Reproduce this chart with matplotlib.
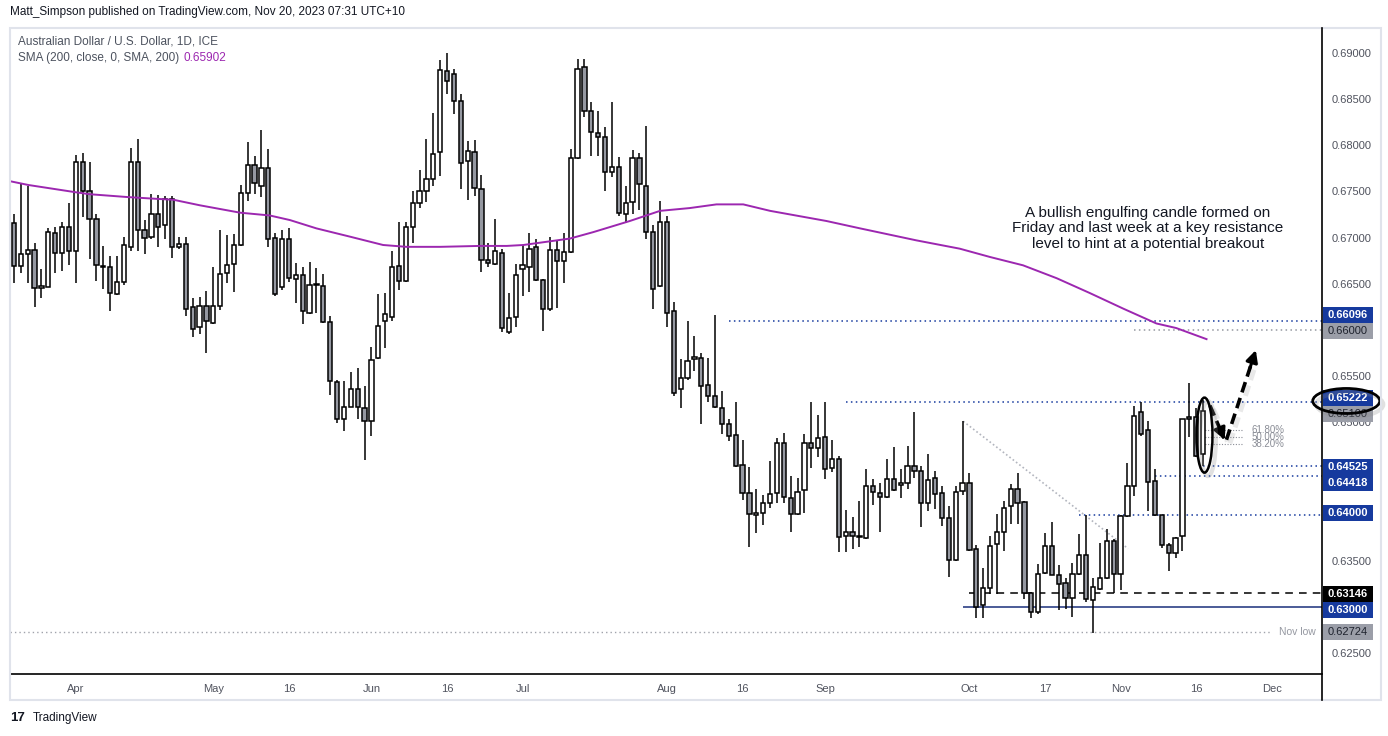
import numpy as np
import pandas as pd
import matplotlib
matplotlib.use("Agg")
import matplotlib.pyplot as plt
from matplotlib.patches import Ellipse, Rectangle
from matplotlib.lines import Line2D
from matplotlib import patheffects as pe
from matplotlib.transforms import blended_transform_factory

plt.rcParams["font.family"] = ["Liberation Sans", "DejaVu Sans"]

# daily AUD/USD candles, 21 Mar 2023 .. 17 Nov 2023
dates = pd.bdate_range("2023-03-21", "2023-11-17")
opens = [
    .6716, .6669, .6682, .6687, .6645, .6647, .6705, .6683, .6711, .6685,
    .6782, .6751, .6720, .6669, .6668, .6639, .6652, .6690, .6782, .6708,
    .6701, .6726, .6714, .6742, .6690, .6693, .6625, .6603, .6626, .6607,
    .6626, .6662, .6671, .6692, .6748, .6779, .6756, .6775, .6700, .6646,
    .6698, .6655, .6660, .6618, .6649, .6648, .6609, .6544, .6504, .6517,
    .6536, .6515, .6501, .6570, .6610, .6614, .6669, .6653, .6712, .6738,
    .6751, .6763, .6793, .6880, .6877, .6848, .6783, .6793, .6753, .6676,
    .6671, .6683, .6598, .6614, .6666, .6668, .6690, .6654, .6623, .6687,
    .6675, .6684, .6786, .6885, .6837, .6813, .6809, .6771, .6776, .6726,
    .6739, .6786, .6756, .6706, .6648, .6717, .6620, .6536, .6548, .6569,
    .6570, .6540, .6528, .6515, .6498, .6486, .6454, .6423, .6400, .6402,
    .6412, .6423, .6477, .6418, .6401, .6427, .6477, .6472, .6484, .6450,
    .6460, .6377, .6381, .6377, .6375, .6431, .6423, .6419, .6438, .6432,
    .6434, .6453, .6447, .6413, .6440, .6423, .6396, .6351, .6426, .6434,
    .6363, .6302, .6320, .6368, .6381, .6409, .6428, .6414, .6315, .6294,
    .6337, .6366, .6335, .6326, .6309, .6336, .6356, .6307, .6319, .6331,
    .6371, .6336, .6398, .6431, .6511, .6492, .6436, .6399, .6367, .6358,
    .6377, .6506, .6506, .6466,
]
highs = [
    .6726, .6759, .6756, .6694, .6666, .6710, .6712, .6717, .6737, .6790,
    .6792, .6782, .6726, .6691, .6680, .6680, .6701, .6797, .6807, .6719,
    .6747, .6746, .6745, .6745, .6701, .6701, .6635, .6636, .6642, .6668,
    .6708, .6703, .6704, .6757, .6804, .6788, .6817, .6796, .6705, .6708,
    .6710, .6672, .6668, .6674, .6667, .6661, .6615, .6546, .6545, .6554,
    .6559, .6539, .6582, .6639, .6640, .6686, .6717, .6717, .6751, .6773,
    .6807, .6835, .6892, .6900, .6883, .6856, .6805, .6806, .6768, .6694,
    .6720, .6688, .6640, .6671, .6692, .6705, .6698, .6655, .6701, .6697,
    .6705, .6796, .6894, .6894, .6847, .6837, .6820, .6847, .6787, .6756,
    .6795, .6792, .6821, .6714, .6740, .6723, .6630, .6568, .6610, .6593,
    .6575, .6570, .6616, .6534, .6504, .6522, .6481, .6451, .6428, .6421,
    .6458, .6483, .6488, .6442, .6440, .6487, .6522, .6508, .6522, .6481,
    .6463, .6405, .6397, .6415, .6449, .6439, .6434, .6460, .6473, .6449,
    .6474, .6511, .6453, .6466, .6447, .6431, .6409, .6431, .6501, .6445,
    .6367, .6342, .6377, .6401, .6415, .6433, .6445, .6415, .6316, .6346,
    .6380, .6392, .6345, .6331, .6347, .6379, .6399, .6331, .6369, .6384,
    .6374, .6399, .6456, .6518, .6522, .6501, .6449, .6400, .6369, .6376,
    .6504, .6543, .6515, .6524,
]
lows = [
    .6651, .6662, .6651, .6625, .6635, .6646, .6662, .6664, .6670, .6651,
    .6722, .6677, .6653, .6644, .6620, .6638, .6649, .6686, .6686, .6682,
    .6698, .6690, .6698, .6678, .6688, .6615, .6592, .6596, .6575, .6606,
    .6622, .6651, .6641, .6691, .6740, .6747, .6744, .6690, .6637, .6643,
    .6652, .6629, .6606, .6617, .6618, .6608, .6529, .6499, .6491, .6516,
    .6504, .6459, .6485, .6569, .6580, .6610, .6643, .6652, .6694, .6732,
    .6739, .6756, .6767, .6856, .6834, .6753, .6741, .6745, .6663, .6668,
    .6670, .6598, .6596, .6603, .6637, .6641, .6653, .6599, .6620, .6624,
    .6651, .6683, .6785, .6831, .6788, .6788, .6751, .6766, .6723, .6716,
    .6726, .6730, .6698, .6623, .6647, .6603, .6528, .6515, .6546, .6556,
    .6498, .6522, .6515, .6487, .6480, .6452, .6416, .6365, .6380, .6389,
    .6407, .6412, .6412, .6381, .6400, .6402, .6450, .6462, .6439, .6446,
    .6359, .6359, .6363, .6365, .6374, .6410, .6381, .6418, .6426, .6418,
    .6428, .6440, .6386, .6404, .6406, .6388, .6332, .6350, .6421, .6361,
    .6288, .6288, .6314, .6314, .6360, .6390, .6390, .6308, .6288, .6292,
    .6336, .6334, .6297, .6298, .6289, .6335, .6305, .6272, .6318, .6330,
    .6315, .6318, .6397, .6420, .6485, .6404, .6398, .6364, .6339, .6353,
    .6361, .6484, .6462, .6453,
]
closes = [
    .6669, .6682, .6687, .6645, .6648, .6706, .6683, .6711, .6685, .6782,
    .6751, .6720, .6670, .6668, .6640, .6652, .6692, .6782, .6708, .6700,
    .6726, .6712, .6742, .6690, .6693, .6623, .6601, .6626, .6610, .6626,
    .6661, .6670, .6692, .6748, .6779, .6759, .6775, .6698, .6639, .6698,
    .6656, .6660, .6621, .6649, .6649, .6609, .6545, .6504, .6517, .6536,
    .6516, .6501, .6567, .6604, .6617, .6668, .6653, .6711, .6738, .6751,
    .6764, .6791, .6882, .6870, .6848, .6781, .6794, .6754, .6676, .6673,
    .6685, .6602, .6613, .6659, .6670, .6688, .6654, .6623, .6687, .6675,
    .6684, .6786, .6883, .6837, .6814, .6809, .6771, .6776, .6727, .6738,
    .6786, .6758, .6706, .6644, .6717, .6618, .6532, .6548, .6566, .6571,
    .6539, .6528, .6516, .6498, .6485, .6453, .6423, .6401, .6402, .6413,
    .6422, .6477, .6419, .6401, .6424, .6477, .6472, .6483, .6449, .6460,
    .6376, .6381, .6377, .6376, .6431, .6424, .6419, .6438, .6427, .6434,
    .6453, .6447, .6413, .6437, .6422, .6396, .6351, .6424, .6434, .6362,
    .6300, .6320, .6366, .6381, .6407, .6428, .6413, .6315, .6294, .6336,
    .6366, .6335, .6325, .6309, .6336, .6356, .6308, .6321, .6331, .6371,
    .6336, .6398, .6431, .6507, .6487, .6435, .6399, .6367, .6358, .6375,
    .6503, .6504, .6463, .6512,
]

# 200-day SMA, traced (bar position, value)
sma_pos = [-9.5, -6.9, 0.1, 2.05, 7.4, 11.75, 14.2, 18.05, 23.9, 28.2, 31.15,
           35.0, 39.9, 44.7, 48.1, 53.0, 58.8, 62.7, 65.1, 71.9, 75.3, 80.6,
           85.0, 89.3, 93.2, 97.1, 101.0, 109.2, 114.1, 122.3, 128.6, 133.0,
           137.8, 142.7, 147.5, 152.4, 157.2, 160.1, 164.5]
sma_vals = [0.6761, 0.6757, 0.6749, 0.6747, 0.6744, 0.6742, 0.6741, 0.6735,
            0.6727, 0.6724, 0.6719, 0.6710, 0.6701, 0.6692, 0.6690, 0.6690,
            0.6691, 0.6691, 0.6692, 0.6699, 0.6706, 0.6718, 0.6729, 0.6732,
            0.6736, 0.6736, 0.6729, 0.6718, 0.6710, 0.6697, 0.6688, 0.6679,
            0.6670, 0.6656, 0.6640, 0.6623, 0.6607, 0.6602, 0.6590]

tick_dates = ["2023-04-03", "2023-05-01", "2023-05-16", "2023-06-01", "2023-06-16",
              "2023-07-03", "2023-08-01", "2023-08-16", "2023-09-01", "2023-10-02",
              "2023-10-17", "2023-11-01", "2023-11-16", "2023-12-01"]
tick_labels = ["Apr", "May", "16", "Jun", "16", "Jul", "Aug", "16", "Sep",
               "Oct", "17", "Nov", "16", "Dec"]

# horizontal levels: price, start date, style
levels = [
    (0.66096, "2023-08-14", "blue_dot"),
    (0.66000, "2023-11-04", "gray_dot"),
    (0.65222, "2023-09-06", "blue_dot"),
    (0.64525, "2023-11-17", "blue_dot"),
    (0.64418, "2023-11-08", "blue_dot"),
    (0.64000, "2023-10-24", "blue_dot"),
    (0.63146, "2023-10-02", "black_dash"),
    (0.63000, "2023-09-29", "navy_solid"),
]
nov_low = 0.62724

# price-scale tags: text, tag centre, colour style
tags = [
    ("0.66096", 0.66161, "blue"), ("0.66000", 0.65988, "gray"),
    ("0.65222", 0.65265, "blue"), ("0.65100", 0.65089, "gray"),
    ("0.64525", 0.64518, "blue"), ("0.64418", 0.64344, "blue"),
    ("0.64000", 0.64013, "blue"), ("0.63146", 0.63139, "black"),
    ("0.63000", 0.62965, "blue"), ("0.62724", 0.62724, "gray"),
]
hidden_ticks = [0.660, 0.645, 0.640, 0.630]

fib_levels = [0.6492, 0.6484, 0.6476]
fib_labels = ["61.80%", "50.00%", "38.20%"]

trend_pos = [129.1, 153.1]
trend_val = [0.6501, 0.6363]

arrow1 = [(165.0, 0.6518), (167.3, 0.6478)]
arrow2 = [(167.4, 0.6481), (171.8, 0.6581)]

note = ("A bullish engulfing candle formed on\n"
        "Friday and last week at a key resistance\n"
        "level to hint at a potential breakout")

BLUE = "#163a9e"
GRAY_TAG = "#9b9ea8"
BEAR = "#9598a1"
PURPLE = "#9c27b0"

W, H = 1388, 736
fig = plt.figure(figsize=(W / 100, H / 100), dpi=100, facecolor="white")
ax = fig.add_axes([10 / W, 1 - 674 / H, 1312 / W, 646 / H])

x = np.arange(len(dates)) - list(dates).index(pd.Timestamp("2023-04-03"))
o, h, l, c = map(np.array, (opens, highs, lows, closes))
up = c >= o

ax.vlines(x, l, h, color="black", lw=1.1, zorder=3)
body_lo = np.minimum(o, c)
body_h = np.maximum(np.abs(c - o), 0.00006)
ax.bar(x, body_h, bottom=body_lo, width=0.62,
       color=np.where(up, "white", BEAR), edgecolor="black", lw=1.1, zorder=4)

ax.plot(sma_pos, sma_vals, color=PURPLE, lw=1.4, zorder=5)


def pos_of(d):
    return pd.bdate_range("2023-04-03", d).size - 1


xmax = 181.3
styles = {
    "blue_dot": dict(color=BLUE, lw=1.1, ls=(0, (1, 2.2))),
    "gray_dot": dict(color="#9598a1", lw=1.1, ls=(0, (1, 2.2))),
    "black_dash": dict(color="black", lw=1.1, ls=(0, (5, 4))),
    "navy_solid": dict(color="#1a2f7a", lw=1.1, ls="-"),
}
for val, start, st in levels:
    ax.hlines(val, pos_of(start), xmax, zorder=2, **styles[st])

bt = blended_transform_factory(ax.transAxes, ax.transData)
ax.hlines(nov_low, -9.6, 174.0, color="#a0a3ab", lw=1.0, ls=(0, (1, 2.2)), zorder=2)
ax.text(0.9955, nov_low, "Nov low", transform=bt,
        ha="right", va="center", fontsize=7.5, color="#9598a1")

ax.plot(trend_pos, trend_val, color="#b2b5be", lw=1.2, ls=(0, (1, 1.5)), zorder=2)

for v, lab in zip(fib_levels, fib_labels):
    ax.hlines(v, 163.9, 169.8, color="#8a8d96", lw=0.8, ls=(0, (1, 1.5)), zorder=2)
    ax.text(171.1, v, lab, fontsize=7, color="#8a8d96", va="center", ha="left")

line_shadow = [pe.SimpleLineShadow(offset=(2.5, -2.5), shadow_color="#888888", alpha=0.18,
                                   linewidth=3.5), pe.Normal()]
for a in (arrow1, arrow2):
    (x0, y0), (x1, y1) = a
    ax.plot([x0, x1 - (x1 - x0) * 0.12], [y0, y1 - (y1 - y0) * 0.12], color="black",
            lw=2.6, ls=(0, (3, 1.6)), zorder=7, path_effects=line_shadow)
    ax.annotate("", xy=(x1, y1), xytext=(x1 - (x1 - x0) * 0.25, y1 - (y1 - y0) * 0.25),
                arrowprops=dict(arrowstyle="-|>,head_length=0.7,head_width=0.35",
                                color="black", lw=2.2), zorder=7)

ring_shadow = [pe.SimpleLineShadow(offset=(2.5, -2.5), shadow_color="#888888", alpha=0.25,
                                   linewidth=3), pe.Normal()]
ell = Ellipse((164.2, 0.6486), 2.33, 0.00813, fill=False, edgecolor="black", lw=1.8, zorder=8)
ell.set_path_effects(ring_shadow)
ax.add_patch(ell)

ax.text(156.0, 0.6710, note, ha="center", va="center", fontsize=11,
        color="#131722", linespacing=1.15, zorder=9)

# axes styling
ax.set_xlim(-9.58, xmax)
ax.set_ylim(0.62272, 0.69271)
ax.yaxis.tick_right()
yt = np.arange(0.625, 0.6901, 0.005)
ax.set_yticks(yt)
ax.set_yticklabels(["" if any(abs(v - hv) < 1e-6 for hv in hidden_ticks) else f"{v:.5f}"
                    for v in yt])
ax.tick_params(axis="y", length=0, pad=7, labelsize=8, labelcolor="#50535e")
ax.set_xticks([pos_of(d) for d in tick_dates])
ax.set_xticklabels(tick_labels)
ax.tick_params(axis="x", length=0, pad=7, labelsize=8, labelcolor="#50535e")
for s in ("top", "left", "right"):
    ax.spines[s].set_visible(False)
ax.spines["bottom"].set_color("black")
ax.spines["bottom"].set_linewidth(1.2)

# price tags
tag_h = 0.00172
for txt, yc, st in tags:
    fc = {"blue": BLUE, "gray": GRAY_TAG, "black": "black"}[st]
    tc = "#1e222d" if st == "gray" else "white"
    ax.add_patch(Rectangle((1.0008, yc - tag_h / 2), 0.0381, tag_h, transform=bt,
                           facecolor=fc, edgecolor="none", clip_on=False, zorder=10))
    ax.text(1.0198, yc, txt, transform=bt, ha="center", va="center", fontsize=8,
            color=tc, fontweight="bold" if st != "gray" else "normal",
            clip_on=False, zorder=11)

tag_ell = Ellipse((1.0185, 0.6523), 0.0511, 0.00271, transform=bt, fill=False,
                  edgecolor="black", lw=2.0, clip_on=False, zorder=12)
tag_ell.set_path_effects(ring_shadow)
ax.add_patch(tag_ell)

# panel frame and price-scale divider
fig.add_artist(Rectangle((10 / W, 1 - 700 / H), 1371 / W, 672 / H, transform=fig.transFigure,
                         fill=False, edgecolor="#e0e3eb", lw=1.5))
fig.add_artist(Line2D([1322 / W] * 2, [1 - 28 / H, 1 - 700 / H], transform=fig.transFigure,
                      color="black", lw=1.2))

fig.text(10 / W, 1 - 12 / H, "Matt_Simpson published on TradingView.com, Nov 20, 2023 07:31 UTC+10",
         fontsize=8.5, color="#131722", va="center")
fig.text(18 / W, 1 - 42 / H, "Australian Dollar / U.S. Dollar, 1D, ICE",
         fontsize=8.5, color="#4c525e", va="center")
fig.text(18 / W, 1 - 58 / H, "SMA (200, close, 0, SMA, 200)",
         fontsize=8.5, color="#4c525e", va="center")
fig.text(184 / W, 1 - 58 / H, "0.65902", fontsize=8.5, color=PURPLE, va="center")
fig.text(10 / W, 1 - 718 / H, "17", fontsize=9.5, fontweight="bold", color="#131722", va="center")
fig.text(33 / W, 1 - 718 / H, "TradingView", fontsize=8.5, color="#131722", va="center")

fig.savefig("out.png", dpi=100, facecolor="white")
